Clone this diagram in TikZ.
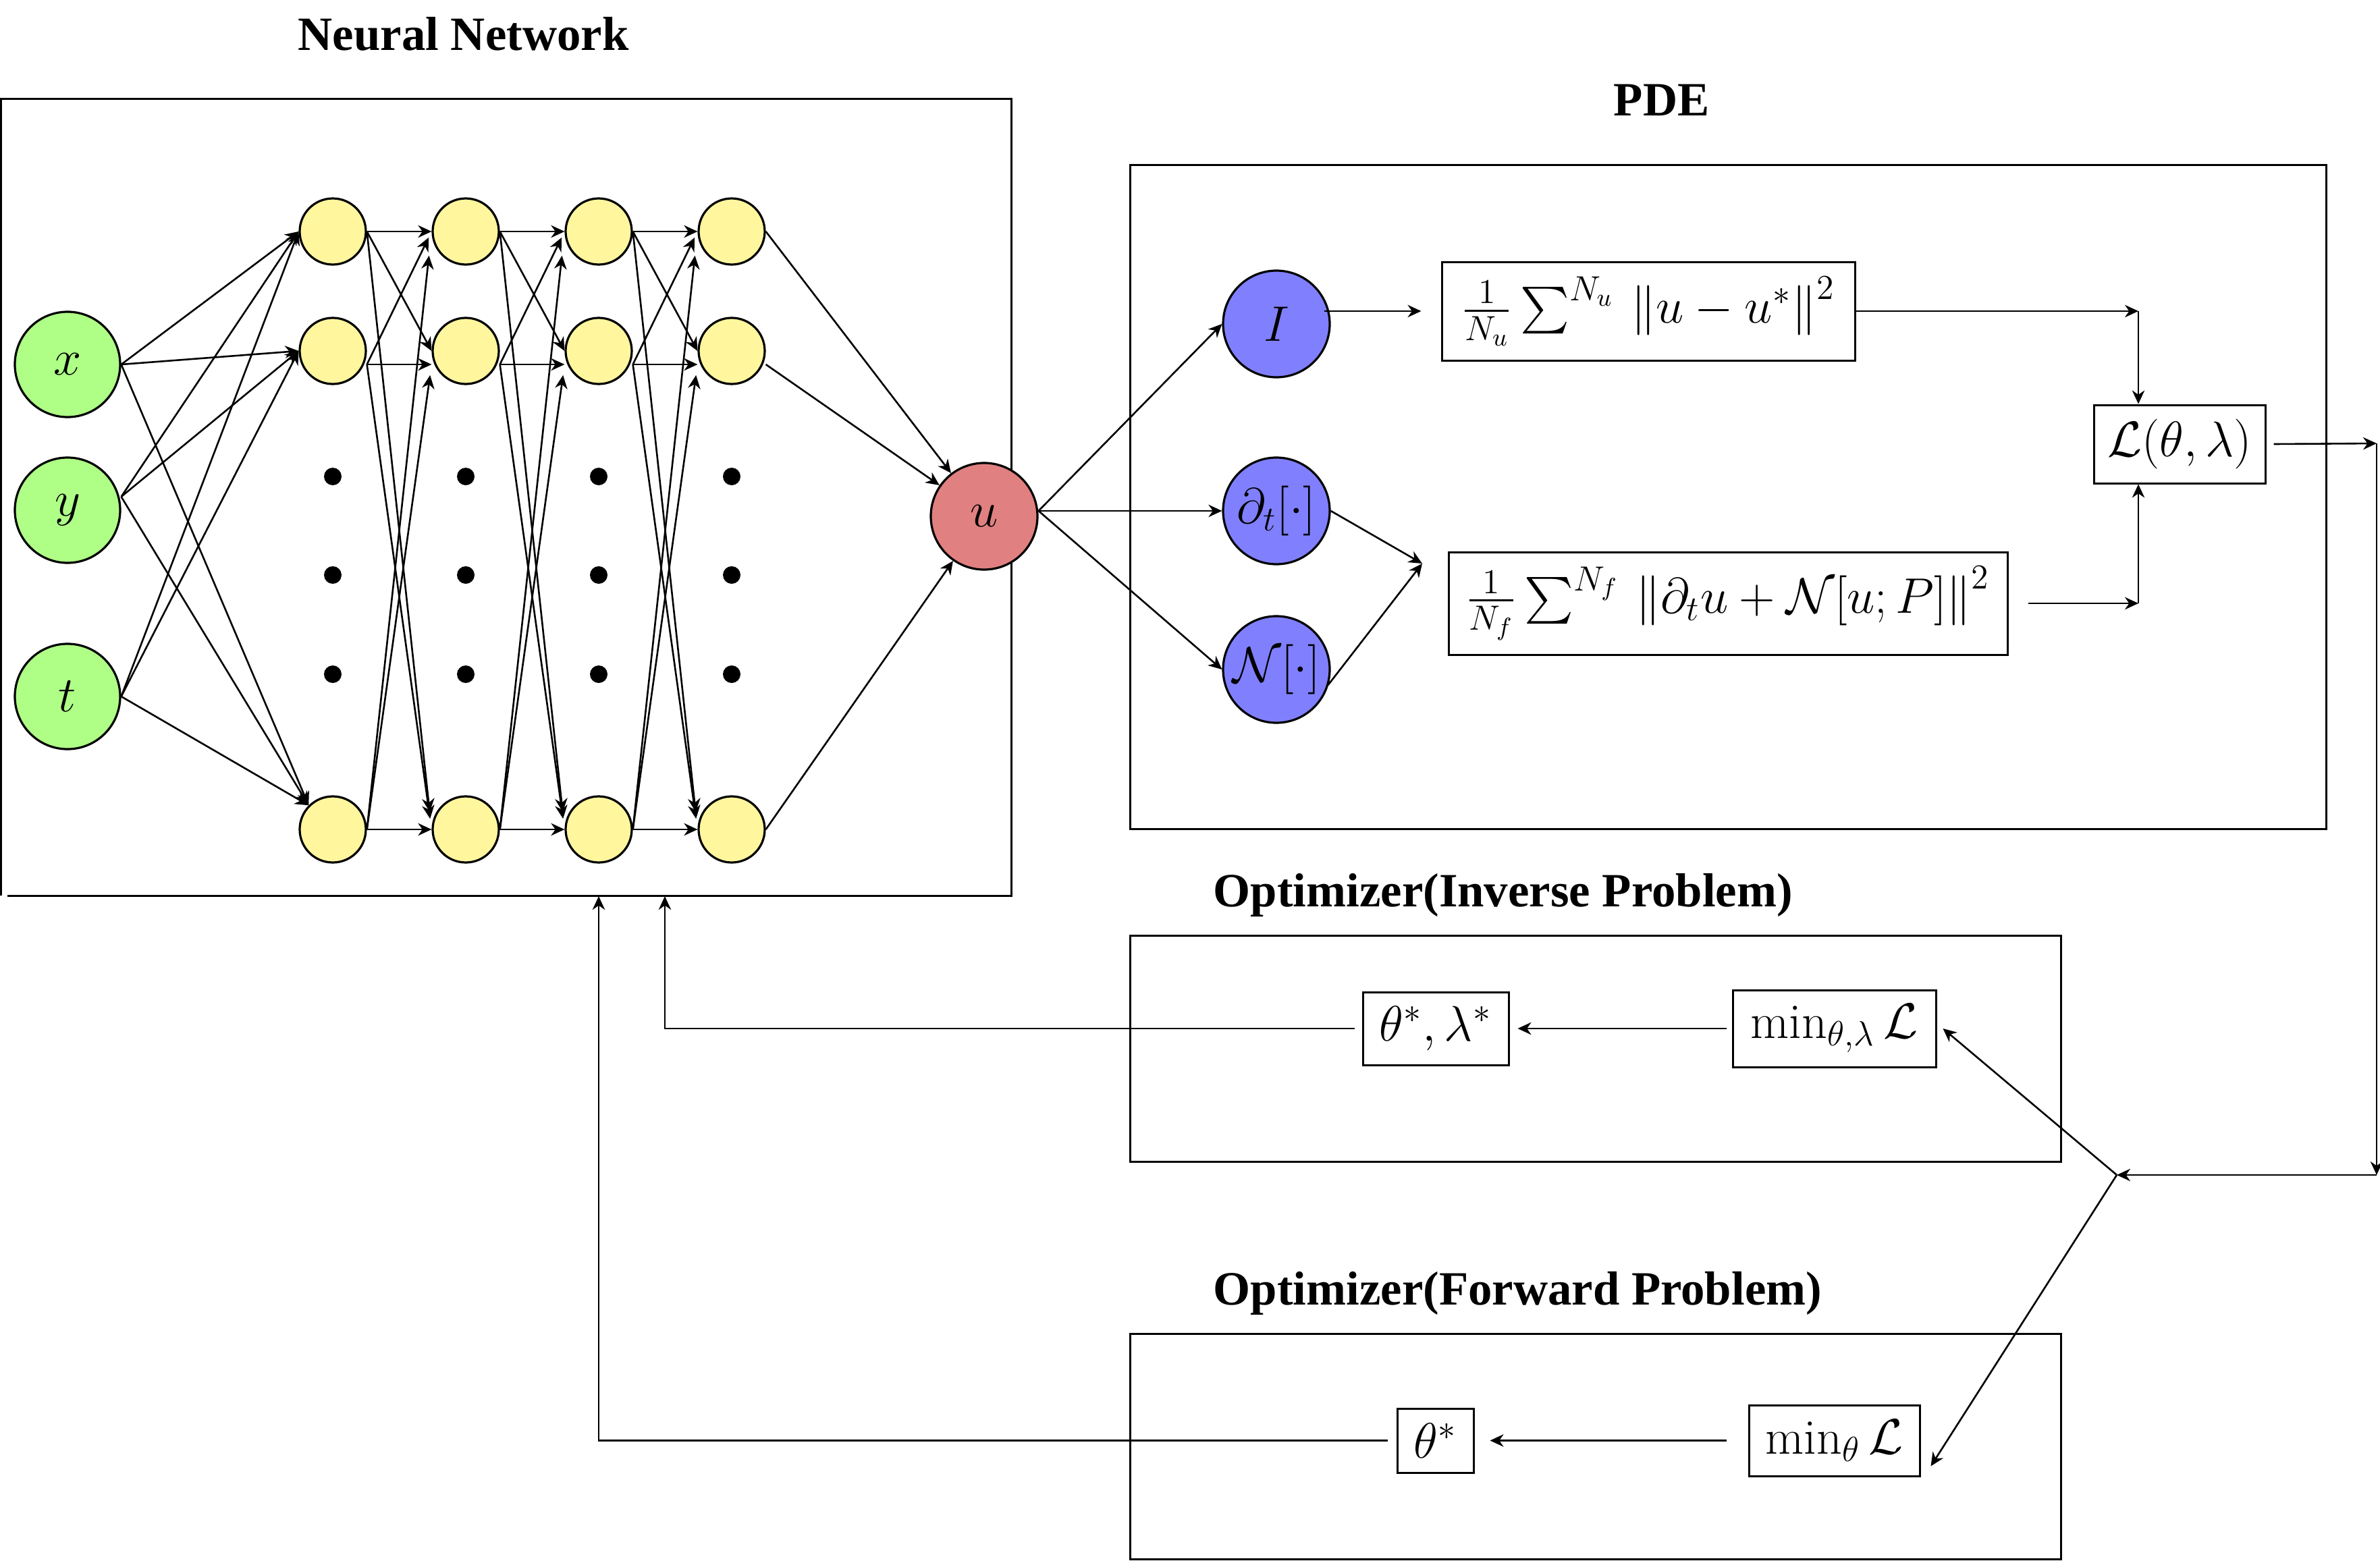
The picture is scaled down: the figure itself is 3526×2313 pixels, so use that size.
\RequirePackage{fix-cm}
\documentclass[tikz,border=0pt]{standalone}
\usepackage{fontspec}
\usepackage{amsmath}
\usetikzlibrary{arrows.meta,calc}
\newfontfamily\titlefont{Liberation Serif}
\definecolor{ngreen}{RGB}{175,255,135}
\definecolor{nyellow}{RGB}{255,246,158}
\definecolor{nred}{RGB}{224,128,128}
\definecolor{nblue}{RGB}{128,128,255}
\tikzset{
  neuron/.style={circle,draw,line width=0.8pt,inner sep=0pt},
  innode/.style={neuron,fill=ngreen,minimum size=39pt},
  hidnode/.style={neuron,fill=nyellow,minimum size=24.5pt},
  outnode/.style={neuron,fill=nred,minimum size=39.5pt},
  pdenode/.style={neuron,fill=nblue,minimum size=39.5pt},
  bigdot/.style={circle,fill=black,minimum size=6.5pt,inner sep=0pt},
  frame/.style={draw,line width=0.75pt,inner sep=0pt},
  fbox/.style={draw,line width=0.75pt,inner sep=0pt},
  conn/.style={-{Stealth[length=5pt,width=4.6pt,inset=1.6pt]},line width=0.65pt},
  plain/.style={line width=0.65pt},
  ttl/.style={font={\titlefont\bfseries\fontsize{17.7}{20}\selectfont},inner sep=0pt,anchor=base west}
}
\begin{document}
\begin{tikzpicture}[x=0.25pt,y=-0.25pt,font=\fontsize{18.5}{21}\selectfont]
\useasboundingbox (0,0) rectangle (3526,2313);

% titles
\node[ttl] (tnn) at (441,74) {Neural Network};
\node[ttl] (tpde) at (2390,171) {PDE};
\node[ttl] (tinv) at (1797,1343) {Optimizer(Inverse Problem)};
\node[ttl] (tfwd) at (1797,1933) {Optimizer(Forward Problem)};

% neural network frame (gap at lower left corner)
\draw[line width=0.75pt] (11,1327) -- (1498,1327) -- (1498,146) -- (1.5,146) -- (1.5,1327);
\coordinate (nnbA) at (985,1328);
\coordinate (nnbB) at (887,1328);

% other frames
\node[frame,minimum width=443pt,minimum height=246pt] (pde) at (2560,736) {};
\node[frame,minimum width=344.75pt,minimum height=83.75pt] (optinv) at (2363.5,1553.5) {};
\node[frame,minimum width=344.75pt,minimum height=83.5pt] (optfwd) at (2363.5,2143) {};

% input nodes
\node[innode] (x) at (100,540) {$x$};
\node[innode] (y) at (100,756) {$y$};
\node[innode] (t) at (100,1032) {$t$};

% hidden nodes
\foreach \c/\xx in {1/493,2/690,3/887,4/1084}{
  \node[hidnode] (ha\c) at (\xx,343) {};
  \node[hidnode] (hb\c) at (\xx,520) {};
  \node[hidnode] (hc\c) at (\xx,1229) {};
  \node[bigdot] (da\c) at (\xx,706) {};
  \node[bigdot] (db\c) at (\xx,852) {};
  \node[bigdot] (dc\c) at (\xx,999) {};
}

% output node
\node[outnode] (u) at (1458,765) {$u$};

% PDE operator nodes
\node[pdenode] (I) at (1891,480) {$I$};
\node[pdenode] (D) at (1891,757) {$\partial_t[\cdot]$\hspace{7.5pt}};
\node[pdenode] (N) at (1891,992) {$\mathcal{N}[\cdot]$\hspace{7.5pt}};

% PDE boxes
\node[fbox,minimum width=153pt,minimum height=36.5pt] (sumU) at (2442,461)
  {$\frac{1}{N_u}\sum^{N_u}\,\left\|u-u^*\right\|^2$};
\node[fbox,minimum width=207pt,minimum height=38pt] (sumF) at (2560,894)
  {$\frac{1}{N_f}\sum^{N_f}\,\left\|\partial_t u+\mathcal{N}[u;P]\right\|^2$};
\node[fbox,minimum width=63.5pt,minimum height=29pt] (L) at (3229,658) {$\mathcal{L}(\theta,\lambda)$};

% optimizer boxes
\node[fbox,minimum width=54pt,minimum height=27pt] (thl) at (2127,1524) {$\theta^*,\lambda^*$};
\node[fbox,minimum width=75.25pt,minimum height=28.5pt] (minTL) at (2717.5,1524) {$\min_{\theta,\lambda}\mathcal{L}$};
\node[fbox,minimum width=28.25pt,minimum height=23.75pt] (th) at (2126.5,2134.5) {$\theta^*$};
\node[fbox,minimum width=63.25pt,minimum height=26.25pt] (minT) at (2717.5,2134.5) {$\min_{\theta}\mathcal{L}$};

% input -> first hidden layer
\foreach \s/\dy in {x/0,y/-20,t/0}{
  \draw[conn] ($(\s.east)+(0,\dy)$) -- (ha1.west);
  \draw[conn] ($(\s.east)+(0,\dy)$) -- (hb1.west);
  \draw[conn] ($(\s.east)+(0,\dy)$) -- (hc1.135);
}

% hidden -> hidden
\foreach \i/\j in {1/2,2/3,3/4}{
  \draw[conn] (ha\i.east) -- (ha\j.west);
  \draw[conn] (ha\i.east) -- (hb\j.west);
  \draw[conn,shorten >=6.5pt] (ha\i.east) -- (hc\j.west);
  \draw[conn,shorten >=2.5pt] ($(hb\i.east)+(0,20)$) -- (ha\j.west);
  \draw[conn] ($(hb\i.east)+(0,20)$) -- ($(hb\j.west)+(0,20)$);
  \draw[conn,shorten >=4pt] ($(hb\i.east)+(0,20)$) -- (hc\j.west);
  \draw[conn,shorten >=9pt] (hc\i.east) -- (ha\j.west);
  \draw[conn,shorten >=4pt] (hc\i.east) -- ($(hb\j.west)+(0,20)$);
  \draw[conn] (hc\i.east) -- (hc\j.west);
}

% last hidden -> output
\draw[conn] (ha4.east) -- (u);
\draw[conn] ($(hb4.east)+(0,20)$) -- (u);
\draw[conn] (hc4.east) -- (u);

% output -> PDE operators
\coordinate (uo) at ($(u.east)+(0,-8)$);
\draw[conn] (uo) -- (I.west);
\draw[conn] (uo) -- (D.west);
\draw[conn] (uo) -- (N.west);

% operators -> loss terms
\draw[conn] ($(I.east)+(-10,-19)$) -- ($(sumU.west)+(-29,0)$);
\coordinate (K) at (2107,835);
\draw[conn] (D.east) -- (K);
\draw[conn] ($(N.east)+(-4,23)$) -- (K);

% loss terms -> total loss
\coordinate (C1) at (3168,461);
\coordinate (C2) at (3168,894);
\draw[conn] (sumU.east) -- (C1);
\draw[conn] (C1) -- (C1 |- L.north);
\draw[conn] ($(sumF.east)+(29,0)$) -- (C2);
\draw[conn] (C2) -- (C2 |- L.south);

% total loss -> optimizers
\coordinate (R1) at (3521,657);
\coordinate (R2) at (3521,1741);
\coordinate (J) at (3136,1741);
\draw[conn] ($(L.east)+(11,0)$) -- (R1);
\draw[conn] (R1) -- (R2);
\draw[conn] (R2) -- (J);
\draw[conn] (J) -- ($(minTL.east)+(9,0)$);
\draw[conn] (J) -- ($(minT.south east)+(15,-16)$);

% optimizer internals and feedback to network
\draw[conn] ($(minTL.west)+(-8,0)$) -- ($(thl.east)+(12,0)$);
\draw[conn] ($(thl.west)+(-11,0)$) -| (nnbA);
\draw[conn] ($(minT.west)+(-32,0)$) -- ($(th.east)+(23,0)$);
\draw[conn] ($(th.west)+(-13,0)$) -| (nnbB);
\end{tikzpicture}
\end{document}
